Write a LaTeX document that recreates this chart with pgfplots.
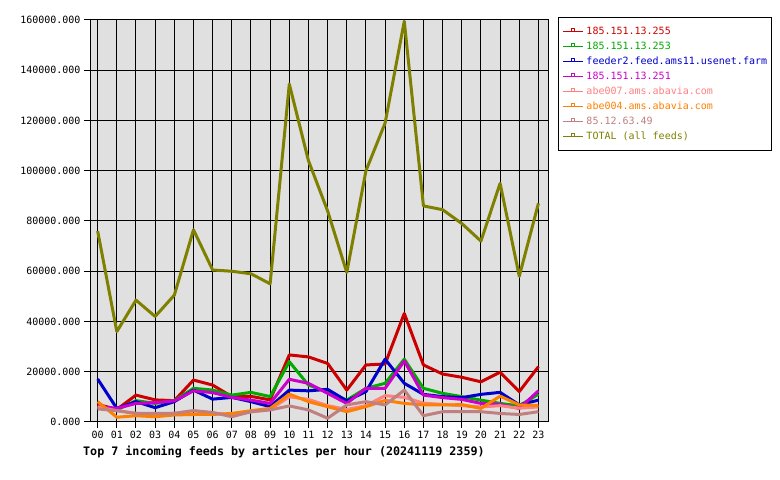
\documentclass[border=0pt]{standalone}
\usepackage{pgfplots}
\pgfplotsset{compat=1.18}
\usepackage{fontspec}
\setmainfont{DejaVu Sans Mono}
\definecolor{cA}{HTML}{CC0000}
\definecolor{cB}{HTML}{00AA00}
\definecolor{cC}{HTML}{0000CC}
\definecolor{cD}{HTML}{CC00CC}
\definecolor{cE}{HTML}{FF8080}
\definecolor{cF}{HTML}{FF8000}
\definecolor{cG}{HTML}{C08080}
\definecolor{cH}{HTML}{808000}
\definecolor{bg}{HTML}{E0E0E0}
\begin{document}
\begin{tikzpicture}
\path[use as bounding box] (0bp,0bp) rectangle (780bp,480bp);
\begin{axis}[
  at={(90bp,58bp)}, anchor=south west,
  scale only axis, width=458bp, height=402bp,
  xmin=-0.4, xmax=23.5, ymin=0, ymax=160000,
  axis background/.style={fill=bg},
  axis line style={black, line width=1bp},
  grid=major, grid style={black, line width=1bp},
  xtick pos=bottom, ytick pos=left,
  xtick={0,...,23},
  xticklabels={00,01,02,03,04,05,06,07,08,09,10,11,12,13,14,15,16,17,18,19,20,21,22,23},
  ytick={0,20000,40000,60000,80000,100000,120000,140000,160000},
  scaled y ticks=false,
  /pgf/number format/assume math mode=true,
  yticklabel style={/pgf/number format/.cd, fixed, fixed zerofill, precision=3, 1000 sep={}},
  tick align=outside, major tick length=6bp,
  tick style={black, line width=1bp},
  tick label style={font=\fontsize{10bp}{12bp}\selectfont},
  xlabel={\bfseries Top 7 incoming feeds by articles per hour (20241119 2359)},
  xlabel style={at={(axis description cs:-0.0153,-0.0746)}, anchor=west, inner sep=0pt, font=\fontsize{11.7bp}{14bp}\selectfont},
  legend cell align=left,
  legend style={at={(axis description cs:1.0218,1.0075)}, anchor=north west,
    draw=black, line width=1bp, fill=white,
    inner xsep=4bp, inner ysep=9bp, row sep=5bp, column sep=3bp,
    font=\fontsize{10bp}{12bp}\selectfont,
    nodes={inner sep=0bp, text height=8bp, text depth=2bp}},
  legend image code/.code={
    \draw[#1, line width=1bp] (0bp,0bp) -- (20bp,0bp);
    \draw[#1, line width=0.8bp, fill=white] (8.5bp,0bp) rectangle (11.5bp,3bp);
  },
  every axis plot/.append style={line width=3bp, line join=round},
]
\addplot[cA, draw=cA] coordinates {(0,7000)(1,5000)(2,10700)(3,8800)(4,8500)(5,16700)(6,14700)(7,10100)(8,10200)(9,8800)(10,26700)(11,25900)(12,23300)(13,12700)(14,22700)(15,23100)(16,43200)(17,22700)(18,19100)(19,17800)(20,16000)(21,19800)(22,12100)(23,22000)};
\addlegendentry{\textcolor{cA}{185.151.13.255}}
\addplot[cB, draw=cB] coordinates {(0,6000)(1,4800)(2,8500)(3,7400)(4,8500)(5,13400)(6,12700)(7,10700)(8,11800)(9,10100)(10,24000)(11,14700)(12,12000)(13,8700)(14,13400)(15,15400)(16,25000)(17,13400)(18,11400)(19,10100)(20,8700)(21,7400)(22,6400)(23,11100)};
\addlegendentry{\textcolor{cB}{185.151.13.253}}
\addplot[cC, draw=cC] coordinates {(0,17100)(1,5400)(2,8100)(3,5700)(4,8100)(5,12700)(6,9100)(7,9800)(8,8100)(9,6100)(10,12700)(11,12400)(12,13000)(13,8400)(14,12100)(15,25000)(16,15400)(17,11000)(18,10100)(19,9700)(20,11000)(21,11800)(22,6800)(23,8700)};
\addlegendentry{\textcolor{cC}{feeder2.feed.ams11.usenet.farm}}
\addplot[cD, draw=cD] coordinates {(0,6400)(1,5400)(2,7400)(3,7700)(4,8400)(5,12400)(6,11700)(7,9800)(8,8700)(9,7400)(10,17000)(11,15400)(12,11400)(13,7400)(14,13400)(15,13400)(16,24300)(17,10700)(18,9700)(19,9000)(20,7400)(21,7000)(22,5400)(23,12400)};
\addlegendentry{\textcolor{cD}{185.151.13.251}}
\addplot[cE, draw=cE] coordinates {(0,6000)(1,4500)(2,3500)(3,3000)(4,3500)(5,4500)(6,3500)(7,3000)(8,4000)(9,5000)(10,10000)(11,9000)(12,6500)(13,5000)(14,6500)(15,10500)(16,9800)(17,7500)(18,7000)(19,6500)(20,6000)(21,6500)(22,5500)(23,6000)};
\addlegendentry{\textcolor{cE}{abe007.ams.abavia.com}}
\addplot[cF, draw=cF] coordinates {(0,8100)(1,1900)(2,2500)(3,2100)(4,2800)(5,3000)(6,3000)(7,3400)(8,4500)(9,5400)(10,11100)(11,8100)(12,6100)(13,4100)(14,6100)(15,8600)(16,7400)(17,6800)(18,6800)(19,6900)(20,5400)(21,10300)(22,6800)(23,6600)};
\addlegendentry{\textcolor{cF}{abe004.ams.abavia.com}}
\addplot[cG, draw=cG] coordinates {(0,5200)(1,4500)(2,3400)(3,3400)(4,3400)(5,4500)(6,3800)(7,2100)(8,4100)(9,4800)(10,6400)(11,4800)(12,1500)(13,6800)(14,8100)(15,6800)(16,12700)(17,2500)(18,4100)(19,4100)(20,4100)(21,3400)(22,3000)(23,4100)};
\addlegendentry{\textcolor{cG}{85.12.63.49}}
\addplot[cH, draw=cH] coordinates {(0,76000)(1,36000)(2,48500)(3,42000)(4,50500)(5,76500)(6,60500)(7,60000)(8,59000)(9,55000)(10,134500)(11,104000)(12,84000)(13,59500)(14,100000)(15,119000)(16,159500)(17,86000)(18,84500)(19,79000)(20,72000)(21,95000)(22,58000)(23,87000)};
\addlegendentry{\textcolor{cH}{TOTAL (all feeds)}}
\end{axis}
\end{tikzpicture}
\end{document}
